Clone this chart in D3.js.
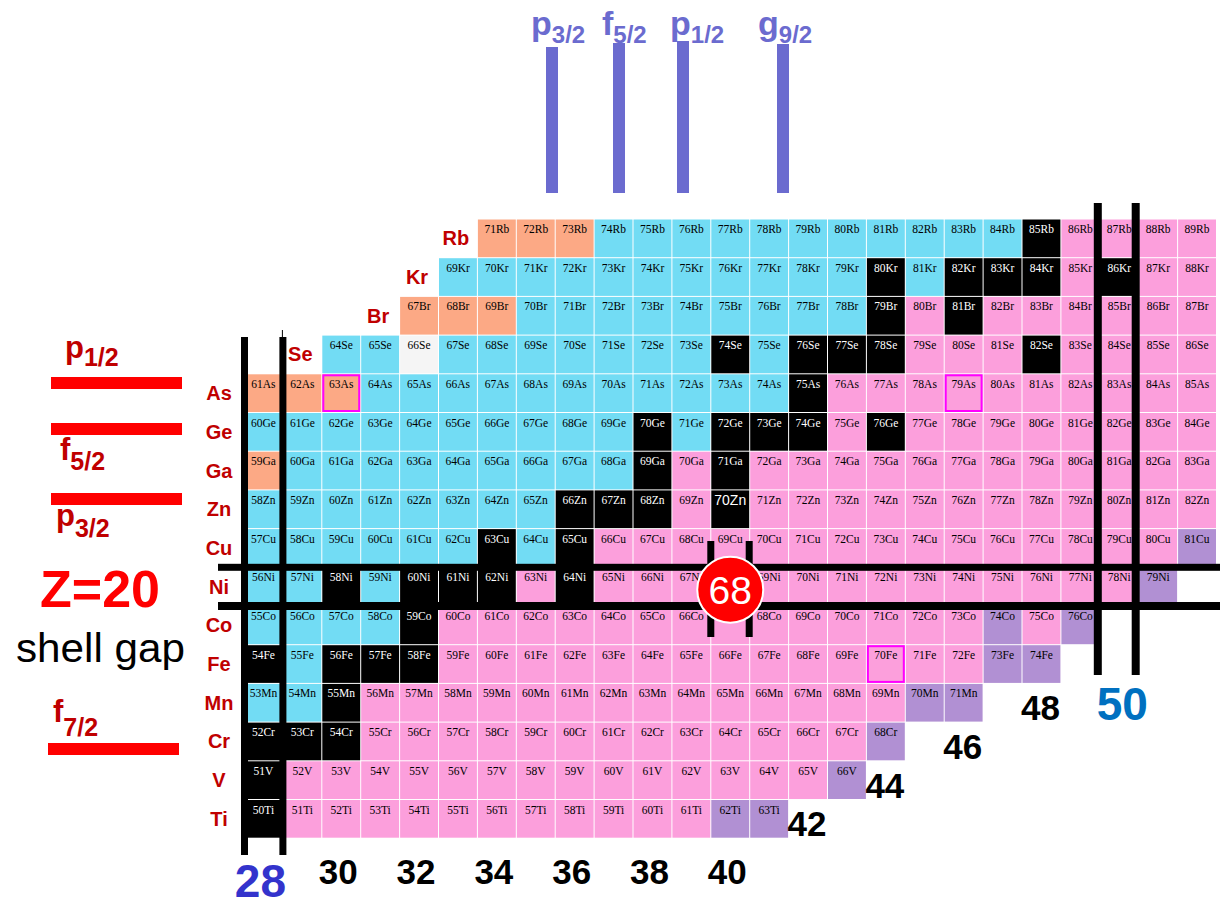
<!DOCTYPE html>
<html>
<head>
<meta charset="utf-8">
<script src="https://cdn.jsdelivr.net/npm/d3@7"></script>
<style>
  html, body { margin: 0; padding: 0; background: #fff; }
  svg { display: block; }
</style>
</head>
<body>
<svg id="chart" width="1220" height="907"></svg>
<script>
// ---- Data -------------------------------------------------------------
// Elements shown, one row each, Ti (Z=22) up to Rb (Z=37)
const elements      = ["Ti","V","Cr","Mn","Fe","Co","Ni","Cu","Zn","Ga","Ge","As","Se","Br","Kr","Rb"];
const protonNumbers = [22, 23, 24, 25, 26, 27, 28, 29, 30, 31, 32, 33, 34, 35, 36, 37];
// Mass number of the lightest isotope drawn in each row
const firstMass     = [50, 51, 52, 53, 54, 55, 56, 57, 58, 59, 60, 61, 64, 67, 69, 71];
// Status of consecutive isotopes along each row, run-length coded:
// k stable, c beta+/EC, p beta-, o proton-unbound side, u newly identified, w not measured
const decayRuns = [
  "k1 p11 u2",                 // Ti
  "k1 p14 u1",                 // V
  "k3 p13 u1",                 // Cr
  "c2 k1 p14 u2",              // Mn
  "k1 c1 k3 p14 u2",           // Fe
  "c4 k1 p14 u1 p1 u1",        // Co
  "c2 k1 c1 k3 p1 k1 p14 u1",  // Ni
  "c6 k1 c1 k1 p15 u1",        // Cu
  "c8 k3 p1 k1 p12",           // Zn
  "o1 c9 k1 p1 k1 p12",        // Ga
  "c10 k1 c1 k3 p1 k1 p8",     // Ge
  "o3 c11 k1 p10",             // As
  "c2 w1 c7 k1 c1 k3 p3 k1 p4",// Se
  "o3 c9 k1 p1 k1 p6",         // Br
  "c11 k1 c1 k3 p1 k1 p2",     // Kr
  "o3 c11 k1 p4"               // Rb
];
// Isotopes outlined as recent mass measurements
const outlined = ["63As", "79As", "70Fe"];
// Isotope printed in a larger face
const emphasised = ["70Zn"];
// Neutron-number tick labels along the bottom
const neutronTicks = [28, 30, 32, 34, 36, 38, 40];
// Neutron numbers labelled along the drip edge, with the row they sit in
const edgeNumbers = [42, 44, 46, 48, 50];
const edgeRowZ    = [22, 23, 24, 25, 25];
// Sub-shell closure marked with a badge
const badgeN = 40, badgeZ = 28, badgeText = "68";
// Single-particle orbitals
const neutronOrbitals = [["p","3/2"], ["f","5/2"], ["p","1/2"], ["g","9/2"]];
const protonOrbitals  = [["p","1/2"], ["f","5/2"], ["p","3/2"], ["f","7/2"]];

// ---- Styles -----------------------------------------------------------
const fills = { k: "#000000", c: "#72dcf4", p: "#fc9fdc", o: "#fca985", u: "#b190d3", w: "#f5f5f5" };
const SANS = "'Liberation Sans', Arial, Helvetica, sans-serif";
const SERIF = "'Liberation Serif', 'Times New Roman', serif";
const elemRed = "#c00000";
const orbitBlue = "#6b6bcf";
const badgeR = 33;

// ---- Build cell table -------------------------------------------------
const cells = [];
elements.forEach((el, i) => {
  const Z = protonNumbers[i];
  let A = firstMass[i];
  decayRuns[i].split(" ").forEach(tok => {
    const code = tok[0], count = +tok.slice(1);
    for (let j = 0; j < count; j++) {
      cells.push({ el, Z, A, N: A - Z, code, name: A + el });
      A++;
    }
  });
});

// ---- Scales -----------------------------------------------------------
const svg = d3.select("#chart");
const x = d3.scaleBand().domain(d3.range(28, 53)).range([244, 244 + 25 * 38.9]);
const y = d3.scaleBand().domain(d3.range(37, 21, -1)).range([219, 219 + 16 * 38.7]);
const bw = x.bandwidth(), bh = y.bandwidth();
const nEdge = n => x(28) + (n - 28) * bw;   // left boundary of column N
const zEdge = z => y(37) + (37 - z) * bh;   // top boundary of row Z

svg.append("rect").attr("width", 1220).attr("height", 907).attr("fill", "#fff");

const bx = x(badgeN) + bw / 2, by = y(badgeZ) + bh / 2 + 3;

// ---- Cells ------------------------------------------------------------
const g = svg.append("g");
const cell = g.selectAll("g.cell").data(cells).join("g")
  .attr("class", "cell")
  .attr("transform", d => `translate(${x(d.N)},${y(d.Z)})`);

cell.append("rect")
  .attr("x", 0.5).attr("y", 0.5)
  .attr("width", bw - 1).attr("height", bh - 1)
  .attr("fill", d => fills[d.code]);

cell.filter(d => outlined.includes(d.name)).append("rect")
  .attr("x", 1.5).attr("y", 1.5)
  .attr("width", bw - 3).attr("height", bh - 3)
  .attr("fill", "none").attr("stroke", "#ff00ff").attr("stroke-width", 2);

// labels hidden beneath the badge are left out
cell.filter(d => Math.hypot(x(d.N) + bw / 2 - bx, y(d.Z) + 10 - by) > badgeR - 4)
  .append("text")
  .attr("x", bw / 2)
  .attr("y", d => emphasised.includes(d.name) ? 15 : 14)
  .attr("text-anchor", "middle")
  .attr("font-family", d => emphasised.includes(d.name) ? SANS : SERIF)
  .attr("font-size", d => emphasised.includes(d.name) ? 14 : 11.5)
  .attr("fill", d => d.code === "k" ? "#fff" : "#000")
  .text(d => d.name);

// ---- Element labels ---------------------------------------------------
const rowStart = {};
cells.forEach(c => { rowStart[c.Z] = Math.min(rowStart[c.Z] ?? 99, c.N); });
svg.append("g").selectAll("text").data(elements).join("text")
  .attr("x", (d, i) => {
    const n0 = rowStart[protonNumbers[i]];
    return n0 > 28 ? x(n0 - 1) + bw / 2 - 2 : 219;
  })
  .attr("y", (d, i) => y(protonNumbers[i]) + bh / 2 + 7)
  .attr("text-anchor", "middle")
  .attr("font-family", SANS).attr("font-weight", "bold")
  .attr("font-size", 20).attr("fill", elemRed)
  .text(d => d);

// ---- Magic-number bars ------------------------------------------------
const bars = svg.append("g").attr("fill", "#000");
// N = 28 pair
bars.append("rect").attr("x", nEdge(28) - 3).attr("y", 337).attr("width", 7).attr("height", 518);
bars.append("rect").attr("x", nEdge(29) - 3.5).attr("y", 337).attr("width", 7).attr("height", 518);
bars.append("line").attr("x1", nEdge(29) - 0.5).attr("x2", nEdge(29) - 0.5)
  .attr("y1", 330).attr("y2", 337).attr("stroke", "#000").attr("stroke-width", 1);
// N = 50 pair
bars.append("rect").attr("x", nEdge(50) - 6).attr("y", 203).attr("width", 8).attr("height", 472);
bars.append("rect").attr("x", nEdge(51) - 7).attr("y", 203).attr("width", 8).attr("height", 472);
// Z = 28 pair
bars.append("rect").attr("x", 218).attr("y", zEdge(28) - 3.5).attr("width", 1002).attr("height", 7);
bars.append("rect").attr("x", 218).attr("y", zEdge(27) - 4).attr("width", 1002).attr("height", 8);
// N = 40 short pair around the badge
bars.append("rect").attr("x", nEdge(40) - 3.5).attr("y", 541).attr("width", 7).attr("height", 96);
bars.append("rect").attr("x", nEdge(41) - 4).attr("y", 541).attr("width", 7).attr("height", 96);

// ---- Badge ------------------------------------------------------------
svg.append("circle").attr("cx", bx).attr("cy", by).attr("r", badgeR)
  .attr("fill", "#ff0000").attr("stroke", "#fff").attr("stroke-width", 2);
svg.append("text").attr("x", bx).attr("y", by + 14)
  .attr("text-anchor", "middle").attr("font-family", SANS)
  .attr("font-size", 39).attr("fill", "#fff").text(badgeText);

// ---- Neutron number labels -------------------------------------------
svg.append("g").selectAll("text").data(neutronTicks).join("text")
  .attr("x", d => x(d) + bw / 2 - 3)
  .attr("y", d => d === 28 ? 897 : 884)
  .attr("text-anchor", "middle")
  .attr("font-family", SANS).attr("font-weight", "bold")
  .attr("font-size", d => d === 28 ? 46 : 35)
  .attr("fill", d => d === 28 ? "#3333cc" : "#000")
  .text(d => d);

svg.append("g").selectAll("text").data(edgeNumbers).join("text")
  .attr("x", d => x(d) + bw / 2 + (d === 50 ? 3 : -1))
  .attr("y", (d, i) => y(edgeRowZ[i]) + bh - 2)
  .attr("text-anchor", "middle")
  .attr("font-family", SANS).attr("font-weight", "bold")
  .attr("font-size", d => d === 50 ? 46 : 35)
  .attr("fill", d => d === 50 ? "#0070c0" : "#000")
  .text(d => d);

// ---- Orbital annotations ----------------------------------------------
function orbitalLabel(sel, [l, j], px, py, size, subSize, dy, color) {
  const t = sel.append("text").attr("x", px).attr("y", py)
    .attr("font-family", SANS).attr("font-weight", "bold").attr("fill", color);
  t.append("tspan").attr("font-size", size).text(l);
  t.append("tspan").attr("font-size", subSize).attr("dy", dy).text(j);
}

// neutron orbitals above the chart
const topX = [531, 602, 670, 758];
const topBarX = [546, 613, 677, 777];
const topBarY = [47, 43, 41, 44];
const ann = svg.append("g");
neutronOrbitals.forEach((o, i) => {
  orbitalLabel(ann, o, topX[i], 35, 34, 24, 8, orbitBlue);
  ann.append("rect").attr("x", topBarX[i]).attr("y", topBarY[i])
    .attr("width", 12).attr("height", 193 - topBarY[i]).attr("fill", orbitBlue);
});

// proton orbitals at the left
const leftX = [65, 60, 56, 53];
const leftY = [358, 460, 526, 722];
const leftDy = [8, 10, 11, 14];
protonOrbitals.forEach((o, i) => orbitalLabel(ann, o, leftX[i], leftY[i], 31, 25, leftDy[i], elemRed));
const levelY = [377, 423, 493, 743];
const levelX = [51, 51, 51, 48];
levelY.forEach((ly, i) => ann.append("rect").attr("x", levelX[i]).attr("y", ly)
  .attr("width", 131).attr("height", 12).attr("fill", "#ff0000"));

ann.append("text").attr("x", 40).attr("y", 607)
  .attr("font-family", SANS).attr("font-weight", "bold").attr("font-size", 52)
  .attr("fill", "#ff0000").text("Z=20");
ann.append("text").attr("x", 16).attr("y", 662)
  .attr("font-family", SANS).attr("font-size", 41)
  .attr("textLength", 169).attr("lengthAdjust", "spacingAndGlyphs")
  .attr("fill", "#000").text("shell gap");
</script>
</body>
</html>
